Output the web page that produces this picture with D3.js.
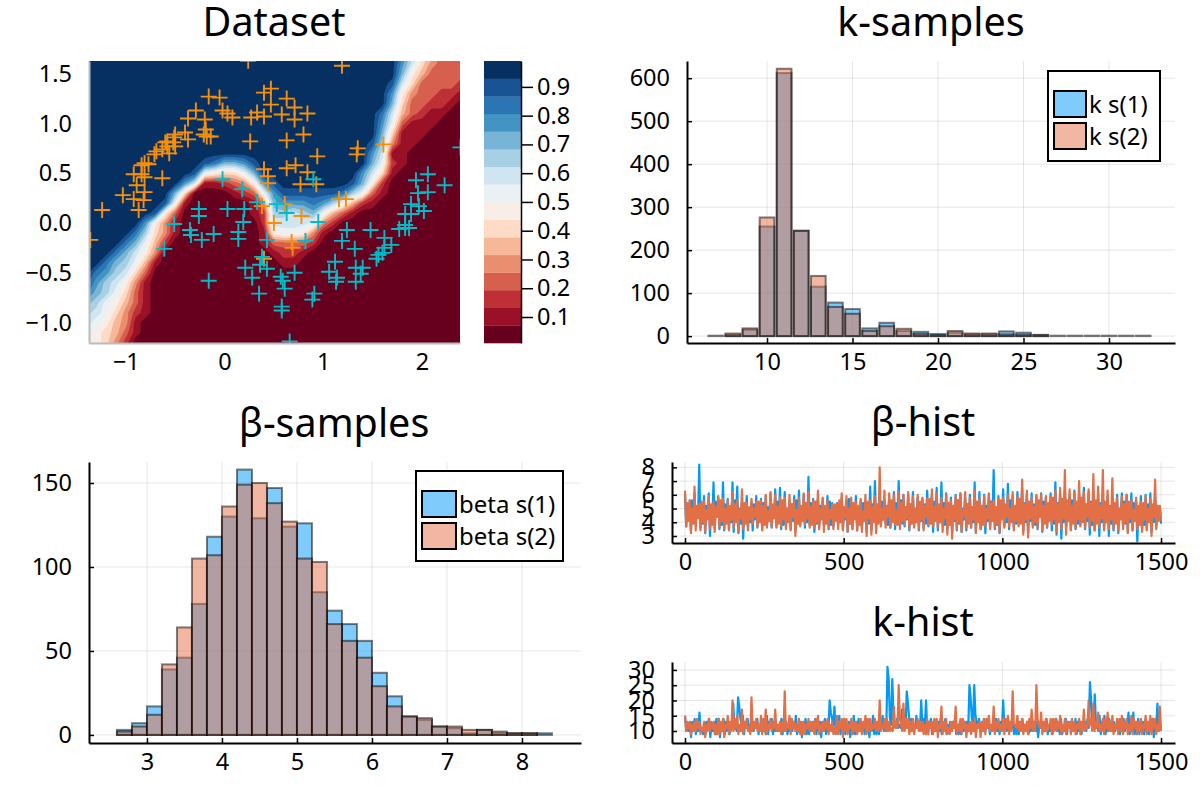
<!DOCTYPE html>
<html><head><meta charset="utf-8">
<script src="https://cdn.jsdelivr.net/npm/d3@7/dist/d3.min.js"></script>
<style>
html,body{margin:0;padding:0;background:#fff}
text{font-family:"Noto Sans",sans-serif;fill:#000}
</style></head><body>
<svg id="c" width="1200" height="800"></svg>
<script>
// ---------- data ----------
const titles = ["Dataset","k-samples","β-samples","β-hist","k-hist"];
const rdbuStops = ["#67001f","#b2182b","#d6604d","#f4a582","#fddbc7","#f7f7f7","#d1e5f0","#92c5de","#4393c3","#2166ac","#053061"];
const colorbarTicks = [0.1,0.2,0.3,0.4,0.5,0.6,0.7,0.8,0.9];
const colorbarRange = [0.0096,0.99];
// classifier probability band (hex digit 0..f) on a 0.1 grid, x from -1.4 to 2.4, rows from y=1.7 down to y=-1.3
const fieldXStart = -1.4, fieldYStart = 1.7, fieldStep = 0.1, fieldCols = 39;
const fieldRows = [
"ffffffffffffffffffffffffffffffffda75333",
"ffffffffffffffffffffffffffffffffc964333",
"ffffffffffffffffffffffffffffffffb753333",
"fffffffffffffffffffffffffffffffe9633332",
"fffffffffffffffffffffffffffffffc7433221",
"fffffffffffffffffffffffffffffffb6332210",
"ffffffffffffffffffffffffffffffd95321100",
"ffffffffffffffffffffffffffffffc83111000",
"ffffffffffffffffffffffffffffffb61110000",
"fffffffffffffffffffffffffffffea41100000",
"fffffffffffffffffffffffffffffc911000000",
"ffffffffffffedbbcefffffffffffb821000000",
"fffffffffffe87668bffffffffffc9610000000",
"ffffffffffc9112347cefffffffeb7200000000",
"fffffffffb600001238ceeeeeeda83100000000",
"ffffffffe8100000014bcccdca85210000000000",
"fffffffe73000000012aa9ab85310000000000000",
"ffffffc741000000002999984200000000000000",
"fffffda6410000000017887410000000000000000",
"ffffdb8520000000001333320000000000000000",
"fffdb9740000000000012210000000000000000",
"ffdba8510000000000001100000000000000000",
"fdca963","eca9741","dba8631","ba87531","a986421",
"9875410","8765310","8764200","7653100"
];
const orangeX = [.24,1.19,-.16,-.05,.40,.47,.63,.47,.71,-.29,-.02,.03,.08,-.37,-.20,.27,.33,.40,.58,.84,.71,-.40,-.50,-.19,-.21,-.18,-.14,-.37,-.58,-.51,.26,.63,.80,1.35,1.34,1.61,.94,-.50,-.58,-.63,-.69,-.71,-.56,-.60,-.52,-.81,-.84,-.77,-.92,-.84,-.81,-.63,-.89,-.81,-1.03,-.92,-.82,-1.24,-.87,-1.36,.40,.44,.44,.63,.72,.84,.93,.77,1.16,1.23,.38,.61,.78,.50,.68,.69,.40];
const orangeY = [1.63,1.58,1.27,1.26,1.31,1.35,1.25,1.19,1.16,1.13,1.13,1.10,1.06,1.05,1.04,1.06,1.11,1.07,1.09,1.10,1.04,.91,.89,.94,.89,.87,.87,.84,.82,.86,.82,.83,.89,.75,.69,.79,.67,.77,.77,.74,.72,.69,.70,.81,.81,.60,.58,.59,.49,.49,.46,.45,.38,.31,.28,.24,.23,.13,.13,-.17,.54,.47,.40,.55,.58,.51,.39,.39,.24,.24,.17,.19,.07,0,-.19,-.25,-.36];
const tealX = [2.39,2.06,1.94,2.23,2.06,1.96,1.89,1.97,2.02,1.83,1.89,1.83,1.77,1.83,1.87,1.48,1.62,1.69,1.62,1.60,1.56,1.54,1.19,1.24,1.32,1.12,1.33,1.40,1.38,1.33,1.06,1.13,1.14,.82,.95,.90,-.02,.18,.33,.20,.53,.63,.03,-.26,-.26,-.51,.19,-.35,-.34,-.11,.14,.14,-.23,-.61,.43,.38,.36,.21,.43,.28,.71,.57,.59,-.16,.61,.35,.91,.89,.58,.58,.66];
const tealY = [.76,.49,.43,.38,.31,.30,.19,.17,.12,.09,.09,-.02,-.06,-.05,-.05,-.07,-.15,-.22,-.25,-.30,-.32,-.36,-.18,-.07,-.26,-.39,-.45,-.45,-.51,-.59,-.49,-.59,-.55,-.18,.01,.44,.44,.34,.21,.14,.19,.10,.14,.14,.07,-.01,.01,-.07,-.12,-.11,-.09,-.16,-.17,-.26,-.17,-.34,-.42,-.45,-.46,-.55,-.50,-.54,-.58,-.58,-.66,-.71,-.71,-.77,-.84,-.88,-1.19];

const kValues = [7,8,9,10,11,12,13,14,15,16,17,18,19,20,21,22,23,24,25,26,27,28,29,30,31,32];
const kS1 = [1,3,15,255,612,245,115,78,63,18,31,12,10,5,8,4,4,11,8,3,1,1,1,1,1,1];
const kS2 = [0,6,18,276,622,245,140,68,52,12,23,17,5,2,12,6,6,4,3,2,0,0,0,0,0,0];
const betaBinStart = 2.6, betaBinWidth = 0.2;
const betaS1 = [3,7,17,39,46,78,118,130,158,129,147,124,126,85,74,66,56,37,23,11,9,5,4,1,3,1,1,1,1];
const betaS2 = [2,5,12,42,64,105,107,136,149,150,138,127,105,103,66,56,46,29,17,11,10,5,5,3,3,2,1,1,0];

const histLast = 1500;
const betaHistS1 = [6.0,3.7,5.6,3.4,6.1,3.9,8.2,3.6,5.9,3.2,6.1,3.0,6.9,3.6,5.8,3.5,6.9,3.4,5.7,3.6,6.9,3.3,6.6,3.2,5.5,2.8,5.9,3.7,5.5,3.4,5.9,3.6,5.7,3.5,5.9,3.8,6.1,3.6,6.4,3.7,6.5,3.5,6.2,3.8,5.5,3.5,5.9,3.4,6.3,3.8,6.0,3.6,7.3,3.8,5.7,3.3,5.8,3.6,5.7,3.8,5.9,3.5,5.4,3.7,5.4,3.8,5.8,3.5,5.6,3.3,5.5,3.5,5.9,3.4,5.6,3.6,5.3,3.3,6.6,3.4,7.0,3.8,6.0,3.9,5.5,3.9,5.8,3.6,6.2,3.5,7.0,3.9,6.0,3.7,6.0,3.4,6.2,3.8,5.8,3.4,5.7,3.6,6.3,3.7,6.0,3.3,6.5,3.4,6.9,3.8,6.1,3.5,5.8,3.2,6.0,3.4,6.1,3.3,5.8,3.4,6.0,3.6,6.9,3.3,6.2,3.5,6.0,3.2,6.0,3.6,7.8,3.5,5.9,3.2,6.4,3.7,6.8,3.5,5.9,3.6,6.2,3.9,6.5,3.4,6.0,3.2,6.1,3.7,5.9,3.5,6.1,3.3,5.8,3.6,6.1,3.4,6.9,3.1,6.0,2.8,6.3,3.6,6.0,3.5,6.3,3.5,6.0,3.8,6.5,3.5,6.2,3.1,6.2,3.4,6.0,3.0,6.0,3.5,5.9,3.0,5.8,3.4,6.0,3.2,6.1,3.7,6.0,3.3,6.1,3.4,5.6,2.6,5.9,3.4,6.0,3.5,6.1,3.3,5.8,3.7,5.1,3.9];
const betaHistS2 = [6.3,3.7,5.6,3.2,6.6,3.4,5.3,3.4,5.5,3.3,5.9,3.5,5.5,3.3,5.9,3.6,5.7,3.5,5.6,3.4,6.2,3.6,5.6,3.3,6.4,3.5,5.4,3.4,5.7,3.9,5.5,3.7,5.6,3.4,6.0,3.6,6.2,3.7,6.0,3.6,5.8,3.7,5.8,3.5,6.0,3.4,5.6,3.0,5.8,3.7,6.1,3.8,6.2,3.6,5.6,3.6,6.3,3.5,5.8,3.3,5.6,3.6,5.3,3.5,5.3,3.5,6.1,3.4,5.9,3.3,5.8,3.5,5.5,3.4,5.7,3.3,6.0,3.0,5.6,3.1,5.9,3.2,8.0,3.7,6.3,3.6,6.1,3.6,6.0,3.8,6.2,3.5,6.0,3.8,6.2,3.5,5.9,3.6,6.0,3.5,5.8,3.4,5.7,3.8,6.4,3.7,6.1,3.6,5.8,3.3,6.0,3.1,5.6,2.8,5.9,3.5,6.1,3.3,6.2,3.6,5.8,3.6,6.3,3.2,5.8,3.5,5.9,3.7,6.1,3.5,5.6,3.6,5.7,3.3,5.8,3.6,6.0,3.7,6.2,3.4,5.9,3.7,7.1,3.1,6.3,2.9,5.8,3.6,6.0,3.6,6.0,3.4,5.9,3.6,5.9,3.8,6.3,3.3,6.5,3.5,7.8,3.1,6.4,3.4,6.2,3.6,7.0,3.7,6.2,3.6,6.4,3.6,7.5,3.4,6.6,3.6,7.8,3.4,6.3,3.5,7.2,3.5,5.8,3.4,5.9,3.5,6.0,3.2,5.6,3.4,5.8,3.5,5.5,3.3,5.9,3.4,5.7,3.0,7.1,3.5,5.2,4.1];
const betaCoreS1 = [5.1,4.2,5.6,4.0,5.0,4.4,5.4,3.9,5.2,4.3,4.9,4.1,5.5,4.4,5.1,3.8,5.3,4.2,4.8,4.0,
5.6,4.3,5.0,3.9,5.2,4.5,4.9,4.0,5.3,4.2,5.0,4.4,5.4,3.9,5.1,4.1,4.8,4.3,5.5,4.0,
5.2,3.8,5.0,4.4,5.3,4.1,5.6,3.9,4.9,4.3,5.1,4.0,5.4,4.2,5.0,3.9,5.2,4.4,4.8,4.1,
5.5,3.8,5.1,4.3,5.3,4.0,5.0,4.2,5.7,3.9,5.2,4.4,4.9,4.0,5.4,4.1,5.1,3.9,5.3,4.3,
5.0,4.0,5.5,4.2,5.2,3.8,4.9,4.4,5.4,4.1,5.6,3.9,5.1,4.2,5.3,4.0,5.0,4.3,5.2,4.1,
5.3,3.9,5.0,4.2,5.5,4.4,5.1,4.0,5.4,3.8,4.9,4.3,5.2,4.1,5.6,3.9,5.0,4.2,5.3,4.4,
5.1,4.0,5.4,4.3,5.0,3.9,5.2,4.1,5.5,4.2,4.8,3.8,5.3,4.4,5.1,4.0,5.6,4.2,5.0,3.9,
5.2,4.3,5.4,4.0,4.9,4.1,5.3,3.8,5.1,4.4,5.5,4.0,5.0,4.2,5.2,3.9,5.4,4.3,5.1,4.0,
4.9,4.2,5.6,4.0,5.2,3.9,5.0,4.4,5.3,4.1,5.5,3.8,5.1,4.3,5.4,4.0,5.0,4.2,5.2,3.9,
5.3,4.1,5.0,4.3,5.5,3.9,5.2,4.0,5.4,4.4,4.9,4.1,5.1,3.8,5.3,4.2,5.0,4.0,5.2,4.3];
const betaCoreS2 = [5.4,4.1,5.0,3.9,5.2,4.3,5.5,4.0,4.9,4.2,5.3,3.8,5.1,4.4,5.6,4.1,5.0,3.9,5.2,4.2,
5.3,4.0,4.9,4.3,5.4,3.9,5.1,4.2,5.0,4.4,5.5,4.0,5.2,3.8,4.8,4.1,5.3,4.3,5.1,3.9,
5.6,4.2,5.0,4.0,5.3,4.4,4.9,3.9,5.2,4.1,5.4,4.3,5.1,3.8,5.5,4.0,5.0,4.2,5.2,3.9,
4.9,4.3,5.3,4.1,5.6,4.0,5.1,4.4,5.0,3.9,5.4,4.2,5.2,3.8,4.8,4.1,5.5,4.3,5.1,4.0,
5.3,3.9,5.0,4.2,5.2,4.4,5.6,4.0,4.9,3.8,5.4,4.1,5.1,4.3,5.3,3.9,5.0,4.0,5.5,4.2,
5.2,4.4,5.7,3.9,5.1,4.1,5.3,4.0,5.0,4.3,5.4,3.8,5.2,4.2,5.6,4.0,4.9,4.4,5.3,3.9,
5.1,4.2,5.5,4.0,5.2,3.8,5.0,4.3,5.4,4.1,5.1,3.9,5.6,4.2,5.3,4.4,5.0,4.0,5.2,4.1,
5.7,3.9,5.3,4.2,5.5,4.3,5.1,4.0,5.6,4.4,5.2,3.9,5.4,4.1,5.8,4.2,5.3,4.0,5.7,4.3,
5.6,4.1,5.2,3.9,5.5,4.2,5.8,4.0,5.3,4.4,5.4,4.1,5.6,3.9,5.2,4.3,5.5,4.0,5.1,4.2,
5.4,3.9,5.0,4.2,5.3,4.0,5.5,4.3,4.9,4.1,5.2,3.8,5.4,4.2,5.0,4.0,5.3,4.4,5.2,4.1];
const kHistS1 = [15,10,13,8,14,9,16,10,13,9,14,8,13,9,14,8,14,9,12,9,19,12,21,18,15,9,14,10,13,10,14,9,13,10,15,9,14,9,12,10,14,9,13,9,14,10,15,9,13,8,14,9,13,10,14,9,13,8,14,9,20,16,18,9,15,9,14,9,13,8,15,9,14,10,13,9,13,8,15,9,13,9,15,10,31,27,27,14,14,11,17,11,23,19,14,10,15,11,20,11,20,10,14,9,13,10,14,9,14,9,13,10,14,9,13,9,13,10,25,21,25,15,14,10,14,10,13,9,14,10,13,9,20,11,14,10,14,9,13,9,14,10,13,9,14,10,13,8,13,10,14,9,13,9,14,10,14,9,14,9,13,10,14,9,13,9,13,10,26,20,22,12,15,9,15,9,14,10,13,10,13,9,14,10,16,9,16,9,14,9,13,9,13,9,14,8,19,10];
const kHistS2 = [15,10,13,9,13,10,13,9,13,8,14,10,13,9,14,9,14,8,15,9,20,10,15,9,17,9,14,10,21,10,14,10,15,9,17,9,14,10,17,10,13,9,23,10,15,9,13,10,14,9,13,9,14,10,13,9,15,9,13,10,14,9,13,9,15,9,14,8,14,9,14,9,13,9,14,9,15,9,14,10,14,10,20,10,14,10,13,10,18,11,25,14,19,10,14,9,14,9,14,10,13,9,14,9,13,9,14,8,18,9,14,9,13,10,18,9,14,9,13,8,13,9,14,8,13,8,14,9,15,10,18,9,14,10,14,9,15,9,23,12,15,10,14,9,13,9,17,10,25,14,16,9,14,10,14,9,14,10,15,9,14,9,13,9,13,9,14,9,17,10,20,12,19,10,16,10,14,9,16,10,15,9,14,9,15,9,14,9,15,9,13,9,14,9,15,9,15,9,14,9,18,10];
const kCoreS1 = [12,10,13,11,12,10,11,9,13,11,12,10,14,11,12,10,13,10,12,11,11,10,14,12,13,11,12,10,13,11,12,10,11,9,13,11,12,10,12,11,14,10,12,10,13,11,11,10,13,11,12,9,13,10,12,11,13,10,11,10,14,12,12,10,13,11,12,10,11,9,13,10,12,11,13,10,12,10,11,9,13,11,12,10,14,12,13,11,12,11,13,11,14,12,12,11,13,11,14,11,13,11,12,10,13,10,12,11,12,10,13,11,11,9,12,10,13,10,14,12,13,11,12,10,13,11,12,10,14,10,13,11,12,10,13,11,12,9,13,11,12,10,11,10,13,10,12,11,13,10,12,10,13,11,12,9,11,10,13,11,12,10,13,10,12,11,14,11,13,11,12,10,13,11,12,10,13,10,12,11,14,10,13,11,12,10,11,9,13,10,12,11,13,10,12,10,13,11,12,10];
const kCoreS2 = [13,11,12,10,14,11,11,10,12,10,13,11,12,9,13,10,12,11,13,10,14,11,12,10,13,11,11,9,13,11,12,10,14,10,12,11,13,11,12,10,13,10,12,11,14,11,12,10,13,9,12,11,13,10,14,11,12,10,13,11,12,10,11,9,13,11,14,10,12,11,13,10,12,10,13,11,14,10,12,11,13,10,12,11,14,10,11,10,13,11,12,10,14,11,13,10,12,11,13,10,12,9,13,11,14,10,12,11,13,10,11,9,13,11,12,10,14,11,12,10,13,10,12,11,13,10,14,11,12,10,13,11,12,10,14,11,13,10,12,11,13,10,12,10,14,11,13,10,12,11,13,10,12,11,14,10,13,11,12,10,13,11,14,10,12,11,13,10,12,11,14,10,13,11,12,10,14,11,13,10,12,11,14,10,13,11,12,10,14,11,13,10,12,11,13,10,14,11,12,10];

// ---------- styles ----------
const blue="#009AFA", red="#E36F47";
const tickFont=23.5, titleFont=39.5, legendFont=24;
const svg=d3.select("#c");
const defs=svg.append("defs");

function makePanel(id,box,xDom,yDom,xTicks,yTicks,title,titleX,titleY,yFmt,grid=true,axisCol="#000"){
  const [l,r,t,b]=box;
  const x=d3.scaleLinear().domain(xDom).range([l,r]);
  const y=d3.scaleLinear().domain(yDom).range([b,t]);
  const g=svg.append("g").attr("id",id);
  defs.append("clipPath").attr("id","clip-"+id).append("rect").attr("x",l).attr("y",t).attr("width",r-l).attr("height",b-t);
  const marks=g.append("g").attr("clip-path",`url(#clip-${id})`);
  if(grid){
    const gg=g.insert("g",":first-child");
    gg.selectAll(".vg").data(xTicks).join("line").attr("x1",d=>x(d)).attr("x2",d=>x(d)).attr("y1",t).attr("y2",b).attr("stroke","#000").attr("stroke-opacity",.1).attr("stroke-width",1);
    gg.selectAll(".hg").data(yTicks).join("line").attr("y1",d=>y(d)).attr("y2",d=>y(d)).attr("x1",l).attr("x2",r).attr("stroke","#000").attr("stroke-opacity",.1).attr("stroke-width",1);
  }
  const ax=g.append("g").attr("transform",`translate(0,${b})`).call(d3.axisBottom(x).tickValues(xTicks).tickSizeInner(-5).tickSizeOuter(0).tickPadding(10).tickFormat(d3.format("d")));
  const ay=g.append("g").attr("transform",`translate(${l},0)`).call(d3.axisLeft(y).tickValues(yTicks).tickSizeInner(-5).tickSizeOuter(0).tickPadding(17).tickFormat(d3.format(yFmt)));
  [ax,ay].forEach(a=>{
    a.selectAll("text").attr("font-size",tickFont).attr("font-family",'"Noto Sans",sans-serif');
    a.selectAll("path").attr("stroke",axisCol).attr("stroke-width",2);
    a.selectAll("line").attr("stroke",axisCol).attr("stroke-width",1.5);
    a.attr("font-family",null);
  });
  g.append("text").attr("x",titleX).attr("y",titleY).attr("text-anchor","middle").attr("font-size",titleFont).text(title);
  return {x,y,marks,g};
}

// ---------- Dataset ----------
const p1=makePanel("p1",[89,460,61,343],[-1.373,2.386],[-1.206,1.628],[-1,0,1,2],[-1,-.5,0,.5,1,1.5],titles[0],274,36,".1f",false,"#bbb");
p1.g.selectAll(".tick line").attr("stroke","none");
const bandColor=d3.scaleLinear().domain(d3.range(11).map(i=>i*1.5)).range(rdbuStops).interpolate(d3.interpolateRgb);
const rows=fieldRows.map(s=>s.padEnd(fieldCols,"0").slice(0,fieldCols));
const values=rows.join("").split("").map(c=>parseInt(c,16));
const contours=d3.contours().size([fieldCols,rows.length]).thresholds(d3.range(0.5,15,1))(values);
const proj=d3.geoTransform({point(X,Y){
  this.stream.point(p1.x(fieldXStart+(X-.5)*fieldStep),p1.y(fieldYStart-(Y-.5)*fieldStep));
}});
const gp=d3.geoPath(proj);
p1.marks.append("rect").attr("x",89).attr("y",61).attr("width",371).attr("height",282).attr("fill",bandColor(0));
p1.marks.selectAll(".band").data(contours).join("path").attr("d",gp).attr("fill",(d,i)=>bandColor(i+1));
const cross=d3.symbol().type({draw(ctx){ctx.moveTo(-8,0);ctx.lineTo(8,0);ctx.moveTo(0,-8);ctx.lineTo(0,8);}});
function plus(xs,ys,col){
  p1.marks.append("g").selectAll("path").data(xs).join("path").attr("d",cross())
   .attr("transform",(d,i)=>`translate(${p1.x(d)},${p1.y(ys[i])})`)
   .attr("fill","none").attr("stroke",col).attr("stroke-width",1.9);
}
plus(orangeX,orangeY,"#f58f0c");
plus(tealX,tealY,"#00bcc6");

// colorbar
const cbY=d3.scaleLinear().domain(colorbarRange).range([343,61]);
const cbStep=(colorbarRange[1]-colorbarRange[0])/16;
svg.append("g").selectAll("rect").data(d3.range(16)).join("rect")
 .attr("x",484).attr("width",37).attr("y",i=>cbY(colorbarRange[0]+(i+1)*cbStep)).attr("height",i=>cbY(colorbarRange[0]+i*cbStep)-cbY(colorbarRange[0]+(i+1)*cbStep)+.3)
 .attr("fill",i=>bandColor(i));
const cbAx=svg.append("g").attr("transform","translate(521,0)").call(d3.axisRight(cbY).tickValues(colorbarTicks).tickSizeInner(12).tickSizeOuter(0).tickPadding(4).tickFormat(d3.format(".1f")));
cbAx.selectAll("text").attr("font-size",tickFont).attr("font-family",'"Noto Sans",sans-serif');
cbAx.selectAll("path").attr("stroke","#000").attr("stroke-width",1.5);
cbAx.selectAll("line").attr("stroke","#000").attr("stroke-width",1.5);

// ---------- helpers ----------
function legend(box,swW,labels){
  const [l,r,t,b]=box;
  svg.append("rect").attr("x",l).attr("y",t).attr("width",r-l).attr("height",b-t).attr("fill","#fff").attr("stroke","#000").attr("stroke-width",2);
  labels.forEach((lab,i)=>{
    const yy=t+20+i*32;
    svg.append("rect").attr("x",l+6).attr("y",yy).attr("width",swW).attr("height",26).attr("fill",i?red:blue).attr("fill-opacity",.5).attr("stroke","#000").attr("stroke-width",2);
    svg.append("text").attr("x",l+6+swW+3).attr("y",yy+21.5).attr("font-size",legendFont).text(lab);
  });
}
function bars(p,lo,hi,vals,col){
  p.marks.append("g").selectAll("rect").data(vals).join("rect")
   .attr("x",(d,i)=>p.x(lo(i))).attr("width",(d,i)=>p.x(hi(i))-p.x(lo(i)))
   .attr("y",d=>p.y(d)).attr("height",d=>p.y(0)-p.y(d))
   .attr("fill",col).attr("fill-opacity",.5).attr("stroke","#000").attr("stroke-opacity",.5).attr("stroke-width",2);
}
// interleave hi/lo pairs read at the envelope with those read in the core of the band
function trace(p,peaks,core,col){
  const vals=[];
  for(let i=0;i<peaks.length;i+=2){
    vals.push(peaks[i],peaks[i+1]);
    if(i+1<core.length) vals.push(core[i],core[i+1]);
  }
  const line=d3.line().x((d,i)=>p.x(i*histLast/(vals.length-1))).y(d=>p.y(d));
  p.marks.append("path").attr("d",line(vals)).attr("fill","none").attr("stroke",col).attr("stroke-width",2.2).attr("stroke-linejoin","round");
}

// ---------- k-samples ----------
const p2=makePanel("p2",[687,1175,61,343],[5.32,33.86],[-16,640],[10,15,20,25,30],[0,100,200,300,400,500,600],titles[1],931,36,"d");
bars(p2,i=>kValues[i]-.43,i=>kValues[i]+.43,kS1,blue);
bars(p2,i=>kValues[i]-.43,i=>kValues[i]+.43,kS2,red);
legend([1048,1160,71,161],32,["k s(1)","k s(2)"]);

// ---------- beta-samples ----------
const p3=makePanel("p3",[89,581,462,743],[2.227,8.787],[-4.8,162.5],[3,4,5,6,7,8],[0,50,100,150],titles[2],334,437,"d");
const bLo=i=>betaBinStart+i*betaBinWidth, bHi=i=>betaBinStart+(i+1)*betaBinWidth;
bars(p3,bLo,bHi,betaS1,blue);
bars(p3,bLo,bHi,betaS2,red);
legend([416,563,471,561],34,["beta s(1)","beta s(2)"]);

// ---------- traces ----------
const p4=makePanel("p4",[672,1175,462,543],[-41,1544],[2.49,8.39],[0,500,1000,1500],[3,4,5,6,7,8],titles[3],923,436,"d");
trace(p4,betaHistS1,betaCoreS1,blue); trace(p4,betaHistS2,betaCoreS2,red);
const p5=makePanel("p5",[672,1175,662,743],[-41,1544],[6.07,32.6],[0,500,1000,1500],[10,15,20,25,30],titles[4],923,636,"d");
trace(p5,kHistS1,kCoreS1,blue); trace(p5,kHistS2,kCoreS2,red);
</script>
</body></html>
